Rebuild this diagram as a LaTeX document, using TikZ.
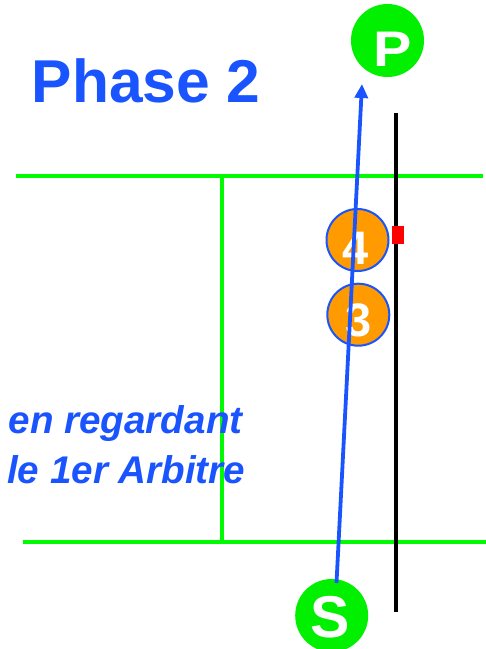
\documentclass[tikz,border=0pt]{standalone}
\usepackage{fontspec}
\setmainfont{Liberation Sans}
\usetikzlibrary{arrows.meta}
\definecolor{myblue}{RGB}{26,84,255}
\definecolor{mygreen}{RGB}{0,240,0}
\definecolor{linegreen}{RGB}{0,250,0}
\definecolor{myorange}{RGB}{255,155,0}
\definecolor{myred}{RGB}{255,0,0}
\tikzset{
  fieldline/.style={draw=linegreen, line width=4pt},
  netline/.style={draw=black, line width=4pt},
  playerbig/.style={circle, fill=mygreen, draw=none, minimum size=73pt, inner sep=0pt},
  playersmall/.style={circle, fill=myorange, draw=myblue, line width=2pt, minimum size=62pt, inner sep=0pt},
  whitetext/.style={text=white, font=\bfseries, inner sep=0pt},
  bluetext/.style={text=myblue, inner sep=0pt, anchor=base west},
  movearrow/.style={draw=myblue, line width=3.8pt, -{Triangle[width=13pt,length=14pt]}}
}
\begin{document}
\begin{tikzpicture}[x=1pt,y=-1pt]
\useasboundingbox (0,0) rectangle (486,649);
% field lines
\coordinate (t1) at (16,175.5);
\coordinate (t2) at (483,175.5);
\coordinate (b1) at (22.5,542);
\coordinate (b2) at (486,542);
\coordinate (v1) at (222,175.5);
\coordinate (v2) at (222,542);
\draw[fieldline] (t1) -- (t2);
\draw[fieldline] (b1) -- (b2);
\draw[fieldline] (v1) -- (v2);
% net line
\coordinate (n1) at (395.5,112.5);
\coordinate (n2) at (395.5,612);
\draw[netline] (n1) -- (n2);
% red marker
\node[fill=myred, minimum width=12pt, minimum height=18pt, inner sep=0pt] (red) at (397.5,235) {};
% players 4 and 3
\node[playersmall] (c4) at (357.5,240) {};
\node[playersmall] (c3) at (358.3,314.7) {};
\node[whitetext, font=\bfseries\fontsize{47}{47}\selectfont] (n4) at (355.8,248) {4};
\node[whitetext, font=\bfseries\fontsize{47}{47}\selectfont] (n3) at (359,320) {3};
% P and S
\node[playerbig] (P) at (387.5,40.5) {};
\node[whitetext, font=\bfseries\fontsize{50}{50}\selectfont, xscale=1.15] (Pl) at (393,49) {P};
\node[playerbig] (S) at (331.7,615.5) {};
\node[whitetext, font=\bfseries\fontsize{59}{59}\selectfont] (Sl) at (330.5,617.5) {S};
% arrow
\coordinate (a0) at (336.5,583);
\coordinate (a1) at (362,84);
\draw[movearrow] (a0) -- (a1);
% texts
\node[bluetext, font=\bfseries\fontsize{60.5}{60.5}\selectfont] (title) at (31.5,102) {Phase 2};
\node[bluetext, font=\bfseries\itshape\fontsize{38.6}{38.6}\selectfont] (txt1) at (8.5,433) {en regardant};
\node[bluetext, font=\bfseries\itshape\fontsize{38.6}{38.6}\selectfont] (txt2) at (7,483) {le 1er Arbitre};
\end{tikzpicture}
\end{document}
